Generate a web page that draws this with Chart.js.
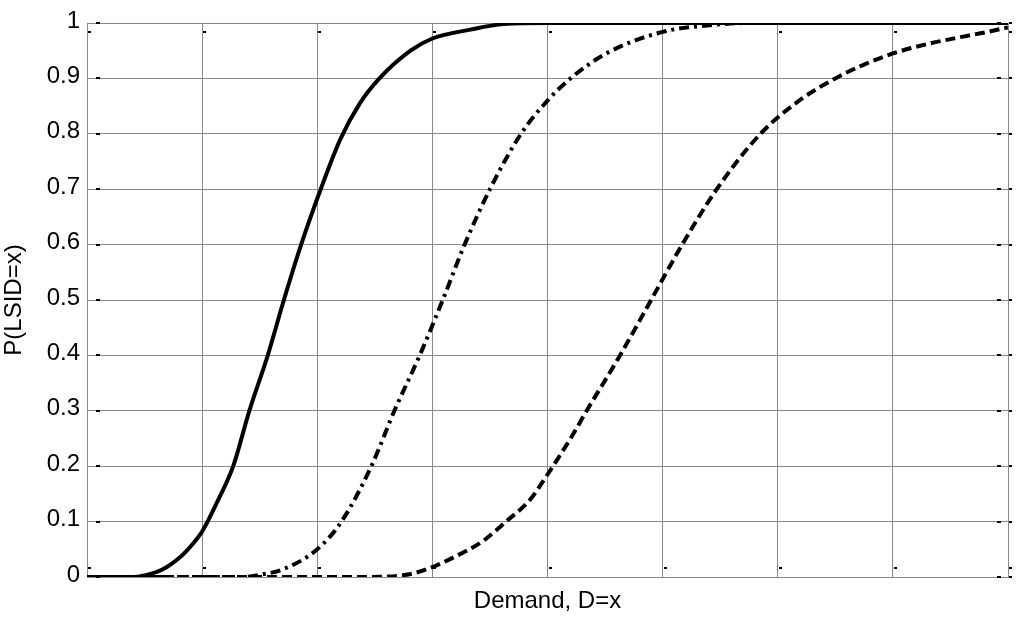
<!DOCTYPE html>
<html>
<head>
<meta charset="utf-8">
<script src="https://cdn.jsdelivr.net/npm/chart.js@4/dist/chart.umd.min.js"></script>
<style>
  html, body { margin: 0; padding: 0; background: #fff; }
  #wrap { width: 1024px; height: 620px; }
</style>
</head>
<body>
<div id="wrap"><canvas id="c" width="1024" height="620"></canvas></div>
<script>
// ---- data ----
const xTicks = [0, 1, 2, 3, 4, 5, 6, 7, 8];
const yTicks = ['0', '0.1', '0.2', '0.3', '0.4', '0.5', '0.6', '0.7', '0.8', '0.9', '1'];

const solidX = [0, 0.4, 0.5, 0.65, 0.82, 0.92, 1.0, 1.13, 1.27, 1.41, 1.57, 1.71, 1.86, 2.03, 2.2, 2.37, 2.54, 2.81, 3.0, 3.33, 3.62, 4.0, 8];
const solidY = [0, 0, 0.003, 0.013, 0.038, 0.06, 0.082, 0.135, 0.2, 0.3, 0.4, 0.5, 0.6, 0.7, 0.79, 0.855, 0.9, 0.95, 0.972, 0.988, 0.998, 1, 1];

const dashDotX = [0, 1.35, 1.5, 1.69, 2.0, 2.21, 2.47, 2.67, 2.89, 3.09, 3.28, 3.5, 3.77, 4.0, 4.2, 4.51, 5.0, 5.36, 5.75, 8];
const dashDotY = [0, 0, 0.004, 0.013, 0.05, 0.1, 0.2, 0.3, 0.4, 0.5, 0.6, 0.7, 0.8, 0.86, 0.9, 0.945, 0.984, 0.995, 1, 1];

const dashedX = [0, 2.4, 2.8, 3.0, 3.18, 3.44, 3.64, 3.85, 4.0, 4.2, 4.34, 4.63, 4.9, 5.17, 5.47, 5.85, 6.2, 6.5, 6.75, 7.0, 7.3, 7.6, 7.8, 8];
const dashedY = [0, 0, 0.005, 0.018, 0.035, 0.065, 0.1, 0.14, 0.185, 0.25, 0.3, 0.4, 0.5, 0.6, 0.7, 0.8, 0.862, 0.9, 0.925, 0.945, 0.962, 0.975, 0.983, 0.992];

const xTitle = 'Demand, D=x';
const yTitle = 'P(LSID=x)';

function pts(xs, ys) { return xs.map((x, i) => ({ x: x, y: ys[i] })); }

const FONT = 'Liberation Sans, Arial, Helvetica, sans-serif';
const GRID = '#8a8a8a';

// small MATLAB-like box tick marks
const boxTicks = {
  id: 'boxTicks',
  afterDatasetsDraw(chart) {
    const { ctx, chartArea: a, scales } = chart;
    ctx.save();
    ctx.fillStyle = '#000';
    scales.y.ticks.forEach(t => {
      const y = Math.round(scales.y.getPixelForValue(t.value));
      ctx.fillRect(a.left + 9, y - 1, 4, 2);
      ctx.fillRect(a.right - 11, y - 1, 4, 2);
      ctx.fillRect(a.right + 1, y - 1, 3, 2);
    });
    scales.x.ticks.forEach(t => {
      const x = Math.round(scales.x.getPixelForValue(t.value));
      ctx.fillRect(x + 1, a.bottom - 10, 3, 2);
      ctx.fillRect(x + 1, a.top + 8, 3, 2);
    });
    ctx.restore();
  }
};

new Chart(document.getElementById('c'), {
  type: 'line',
  data: {
    datasets: [
      {
        data: pts(solidX, solidY),
        borderColor: '#000', borderWidth: 4, pointRadius: 0,
        cubicInterpolationMode: 'monotone', fill: false
      },
      {
        data: pts(dashDotX, dashDotY),
        borderColor: '#000', borderWidth: 4, pointRadius: 0,
        borderDash: [10, 5, 3, 5], borderCapStyle: 'butt',
        cubicInterpolationMode: 'monotone', fill: false
      },
      {
        data: pts(dashedX, dashedY),
        borderColor: '#000', borderWidth: 4, pointRadius: 0,
        borderDash: [10, 5], borderCapStyle: 'butt',
        cubicInterpolationMode: 'monotone', fill: false
      }
    ]
  },
  options: {
    responsive: false,
    animation: false,
    layout: { padding: { left: 0, top: 23, right: 16, bottom: 0 } },
    plugins: { legend: { display: false }, tooltip: { enabled: false } },
    scales: {
      x: {
        type: 'linear', min: 0, max: 8,
        afterBuildTicks(s) { s.ticks = xTicks.map(v => ({ value: v })); },
        ticks: { display: false },
        grid: { color: GRID, lineWidth: 1, drawTicks: false },
        border: { display: true, color: GRID, width: 1 },
        title: {
          display: true, text: xTitle, color: '#000',
          font: { family: FONT, size: 24 }, padding: { top: 0, bottom: 4 }
        },
        afterFit(s) { s.height = 43; }
      },
      y: {
        type: 'linear', min: 0, max: 1,
        afterBuildTicks(s) { s.ticks = yTicks.map((t, i) => ({ value: i / 10 })); },
        ticks: {
          color: '#000', padding: 7, labelOffset: -2,
          font: { family: FONT, size: 24 },
          callback: (v, i) => yTicks[i]
        },
        grid: { color: GRID, lineWidth: 1, drawTicks: false },
        border: { display: true, color: GRID, width: 1 },
        title: {
          display: true, text: yTitle, color: '#000',
          font: { family: FONT, size: 24 }, padding: { top: 0, bottom: 0 }
        },
        afterFit(s) { s.width = 87; }
      }
    }
  },
  plugins: [boxTicks]
});
</script>
</body>
</html>
